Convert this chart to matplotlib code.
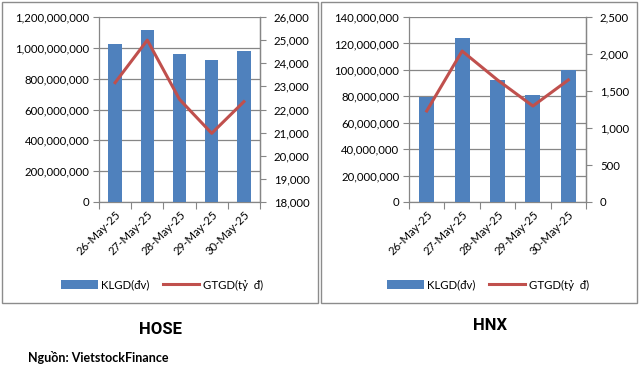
import matplotlib
matplotlib.use('Agg')
import matplotlib.pyplot as plt
from matplotlib.patches import Rectangle
from matplotlib.ticker import FuncFormatter, MultipleLocator
import numpy as np

plt.rcParams['font.family'] = ['Lato', 'DejaVu Sans']

dates = ['26-May-25', '27-May-25', '28-May-25', '29-May-25', '30-May-25']

# HOSE
hose_vol = [1025e6, 1116e6, 960e6, 921e6, 979e6]
hose_val = [23160, 25000, 22440, 20970, 22340]

# HNX
hnx_vol = [79.7e6, 124.1e6, 92.3e6, 80.7e6, 99.9e6]
hnx_val = [1230, 2040, 1649, 1297, 1649]

BLUE = '#4F81BD'
RED = '#C0504D'
GRID = '#868686'
FS = 8.2

W, H = 639, 373
fig = plt.figure(figsize=(W / 100, H / 100), dpi=100)


def px(x0, y0, x1, y1):
    return [x0 / W, 1 - y1 / H, (x1 - x0) / W, (y1 - y0) / H]


comma = FuncFormatter(lambda v, p: f'{v:,.0f}')


def panel(box, axbox, vol, val, vlim, vstep, rlim, rstep, legend_x):
    # outer frame
    fig.patches.append(Rectangle((box[0] / W, 1 - box[3] / H),
                                 (box[2] - box[0]) / W, (box[3] - box[1]) / H,
                                 transform=fig.transFigure, fill=False,
                                 edgecolor='#8C8C8C', linewidth=1.0))
    ax = fig.add_axes(px(*axbox))
    x = np.arange(len(dates))
    ax.bar(x, vol, width=0.42, color=BLUE, zorder=3, label='KLGD(đv)')
    ax.set_xlim(-0.5, len(dates) - 0.5)
    ax.set_ylim(*vlim)
    ax.yaxis.set_major_locator(MultipleLocator(vstep))
    ax.yaxis.set_major_formatter(comma)
    ax.grid(axis='y', color=GRID, linewidth=0.9, zorder=0)
    ax.set_axisbelow(True)
    ax.spines['top'].set_visible(False)
    for s in ['left', 'right', 'bottom']:
        ax.spines[s].set_color(GRID)
        ax.spines[s].set_linewidth(0.9)
    ax.set_xticks(np.arange(-0.5, len(dates), 1.0))
    ax.set_xticklabels([])
    ax.set_xticks(x, minor=True)
    ax.set_xticklabels(dates, minor=True, rotation=45, ha='right', va='top',
                       rotation_mode='anchor', fontsize=FS)
    ax.tick_params(axis='x', which='major', length=5, color=GRID, direction='out')
    ax.tick_params(axis='x', which='minor', length=0, pad=5)
    ax.tick_params(axis='y', length=4, color=GRID, labelsize=FS, pad=3)

    ax2 = ax.twinx()
    ax2.plot(x, val, color=RED, linewidth=2.2, zorder=4, label='GTGD(tỷ  đ)')
    ax2.set_ylim(*rlim)
    ax2.yaxis.set_major_locator(MultipleLocator(rstep))
    ax2.yaxis.set_major_formatter(comma)
    ax2.tick_params(axis='y', length=4, color=GRID, labelsize=FS, pad=6)
    for s in ['top', 'left', 'bottom']:
        ax2.spines[s].set_visible(False)
    ax2.spines['right'].set_color(GRID)
    ax2.spines['right'].set_linewidth(0.9)

    h1, l1 = ax.get_legend_handles_labels()
    h2, l2 = ax2.get_legend_handles_labels()
    fig.legend(h1 + h2, l1 + l2, loc='center', bbox_to_anchor=(legend_x / W, 1 - 285 / H),
               ncol=2, frameon=False, fontsize=FS, handlelength=3.2,
               handleheight=0.8, columnspacing=1.2, handletextpad=0.3)


panel((2, 2, 318, 303), (99, 17, 260, 202), hose_vol, hose_val,
      (0, 1.2e9), 2e8, (18000, 26000), 1000, 162)
panel((321, 2, 637, 303), (409, 17, 586, 202), hnx_vol, hnx_val,
      (0, 140e6), 2e7, (0, 2500), 500, 488)

title_font = ['Roboto', 'DejaVu Sans']
fig.text(160 / W, 1 - 329 / H, 'HOSE', ha='center', va='center', fontsize=12,
         fontweight='bold', family=title_font)
fig.text(490 / W, 1 - 326 / H, 'HNX', ha='center', va='center', fontsize=12,
         fontweight='bold', family=title_font)
fig.text(28 / W, 1 - 358 / H, 'Nguồn: VietstockFinance', ha='left', va='center',
         fontsize=9, fontweight='bold')

fig.savefig('out.png', dpi=100)
